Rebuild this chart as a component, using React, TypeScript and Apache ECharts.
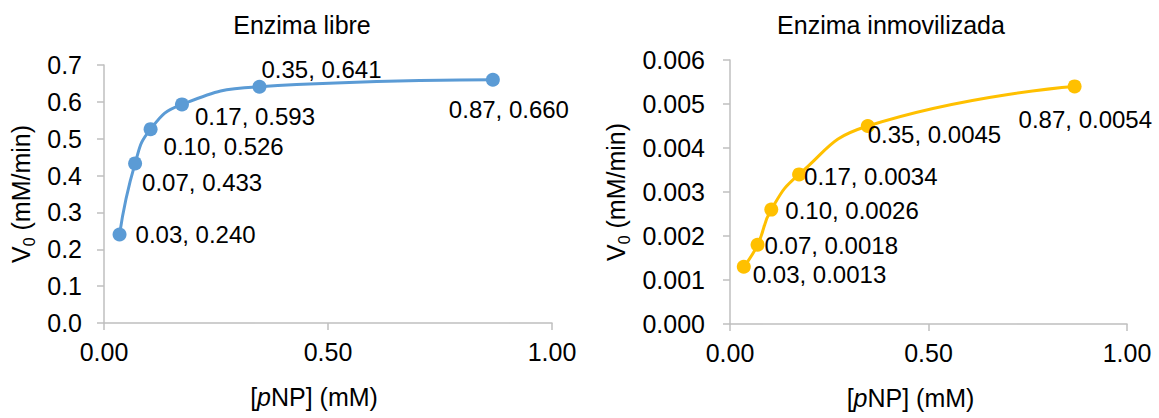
import React, { useEffect, useRef } from "react";
import * as echarts from "echarts";

const titles = ["Enzima libre", "Enzima inmovilizada"];
const xFree = [0.0347, 0.0694, 0.104, 0.174, 0.347, 0.868];
const yFree = [0.24, 0.433, 0.526, 0.593, 0.641, 0.66];
const xImm = [0.0347, 0.0694, 0.104, 0.174, 0.347, 0.868];
const yImm = [0.0013, 0.0018, 0.0026, 0.0034, 0.0045, 0.0054];
const xTicks = [0, 0.5, 1];
const yFreeTicks = [0, 0.7, 0.1];
const yImmTicks = [0, 0.006, 0.001];

// label offsets (dx, dy) per point
const freeLabelOffsets = [
  [9, 0],
  [0, 19],
  [6, 17],
  [6, 12],
  [-5, -17],
  [-51, 30],
];
const immLabelOffsets = [
  [2, 8],
  [0, 1],
  [7, 1],
  [-2, 2],
  [-7, 8],
  [-63, 33],
];

const FONT = "Liberation Sans, Arial, sans-serif";
const FS = 25;
const AXIS_COLOR = "#BFBFBF";

export default function App() {
  const ref = useRef<HTMLDivElement>(null);
  useEffect(() => {
    if (!ref.current) return;
    const chart = echarts.init(ref.current, null, { renderer: "svg" });

    const mkX = (gridIndex: number, shift: number) => ({
      type: "value",
      gridIndex,
      min: xTicks[0],
      max: xTicks[xTicks.length - 1],
      interval: 0.5,
      splitLine: { show: false },
      axisLine: { show: true, lineStyle: { color: AXIS_COLOR, width: 1.5 } },
      axisTick: { show: true, length: 7, lineStyle: { color: AXIS_COLOR, width: 1.5 } },
      axisLabel: {
        color: "#000",
        fontFamily: FONT,
        fontSize: FS,
        margin: 16,
        formatter: (v: number) => v.toFixed(2),
      },
      name: "[{i|p}NP] (mM)",
      nameLocation: "middle",
      nameGap: 61,
      nameTextStyle: {
        color: "#000",
        fontFamily: FONT,
        fontSize: FS,
        padding: [0, shift, 0, 0],
        rich: { i: { fontStyle: "italic", fontFamily: FONT, fontSize: FS, color: "#000" } },
      },
    });

    const mkY = (gridIndex: number, t: number[], dec: number, gap: number, margin: number) => ({
      type: "value",
      gridIndex,
      min: t[0],
      max: t[1],
      interval: t[2],
      splitLine: { show: false },
      axisLine: { show: true, lineStyle: { color: AXIS_COLOR, width: 1.5 } },
      axisTick: { show: true, length: 7, lineStyle: { color: AXIS_COLOR, width: 1.5 } },
      axisLabel: {
        color: "#000",
        fontFamily: FONT,
        fontSize: FS,
        margin,
        formatter: (v: number) => v.toFixed(dec),
      },
      name: "V{sub|0} (mM/min)",
      nameLocation: "middle",
      nameGap: gap,
      nameTextStyle: {
        color: "#000",
        fontFamily: FONT,
        fontSize: FS,
        rich: {
          sub: { fontFamily: FONT, fontSize: 16, color: "#000", verticalAlign: "bottom", lineHeight: 32, padding: [9, 0, 0, 0] },
        },
      },
    });

    const mkData = (xs: number[], ys: number[], offs: number[][], ydec: number) =>
      xs.map((x, i) => ({
        value: [x, ys[i]],
        label: {
          show: true,
          position: "right",
          distance: 0,
          offset: offs[i],
          formatter: `${x.toFixed(2)}, ${ys[i].toFixed(ydec)}`,
          color: "#000",
          fontFamily: FONT,
          fontSize: 24,
        },
      }));

    chart.setOption({
      animation: false,
      title: [
        {
          text: titles[0],
          left: 297,
          top: 7,
          textAlign: "center",
          textStyle: { color: "#000", fontFamily: FONT, fontSize: FS, fontWeight: "normal" },
        },
        {
          text: titles[1],
          left: 886,
          top: 7,
          textAlign: "center",
          textStyle: { color: "#000", fontFamily: FONT, fontSize: FS, fontWeight: "normal" },
        },
      ],
      grid: [
        { left: 104, top: 65, width: 448, height: 258, containLabel: false },
        { left: 730, top: 60, width: 397, height: 264, containLabel: false },
      ],
      xAxis: [mkX(0, 28), mkX(1, 36)],
      yAxis: [mkY(0, yFreeTicks, 1, 67, 22), mkY(1, yImmTicks, 3, 98, 25)],
      series: [
        {
          type: "line",
          xAxisIndex: 0,
          yAxisIndex: 0,
          smooth: 0.5,
          symbol: "circle",
          symbolSize: 14,
          lineStyle: { color: "#5B9BD5", width: 3 },
          itemStyle: { color: "#5B9BD5" },
          data: mkData(xFree, yFree, freeLabelOffsets, 3),
        },
        {
          type: "line",
          xAxisIndex: 1,
          yAxisIndex: 1,
          smooth: 0.5,
          symbol: "circle",
          symbolSize: 14,
          lineStyle: { color: "#FFC000", width: 3 },
          itemStyle: { color: "#FFC000" },
          data: mkData(xImm, yImm, immLabelOffsets, 4),
        },
      ],
    });
    return () => chart.dispose();
  }, []);
  return (
    <div
      ref={ref}
      style={{ position: "absolute", left: 0, top: 0, width: 1159, height: 418, background: "#fff" }}
    />
  );
}
